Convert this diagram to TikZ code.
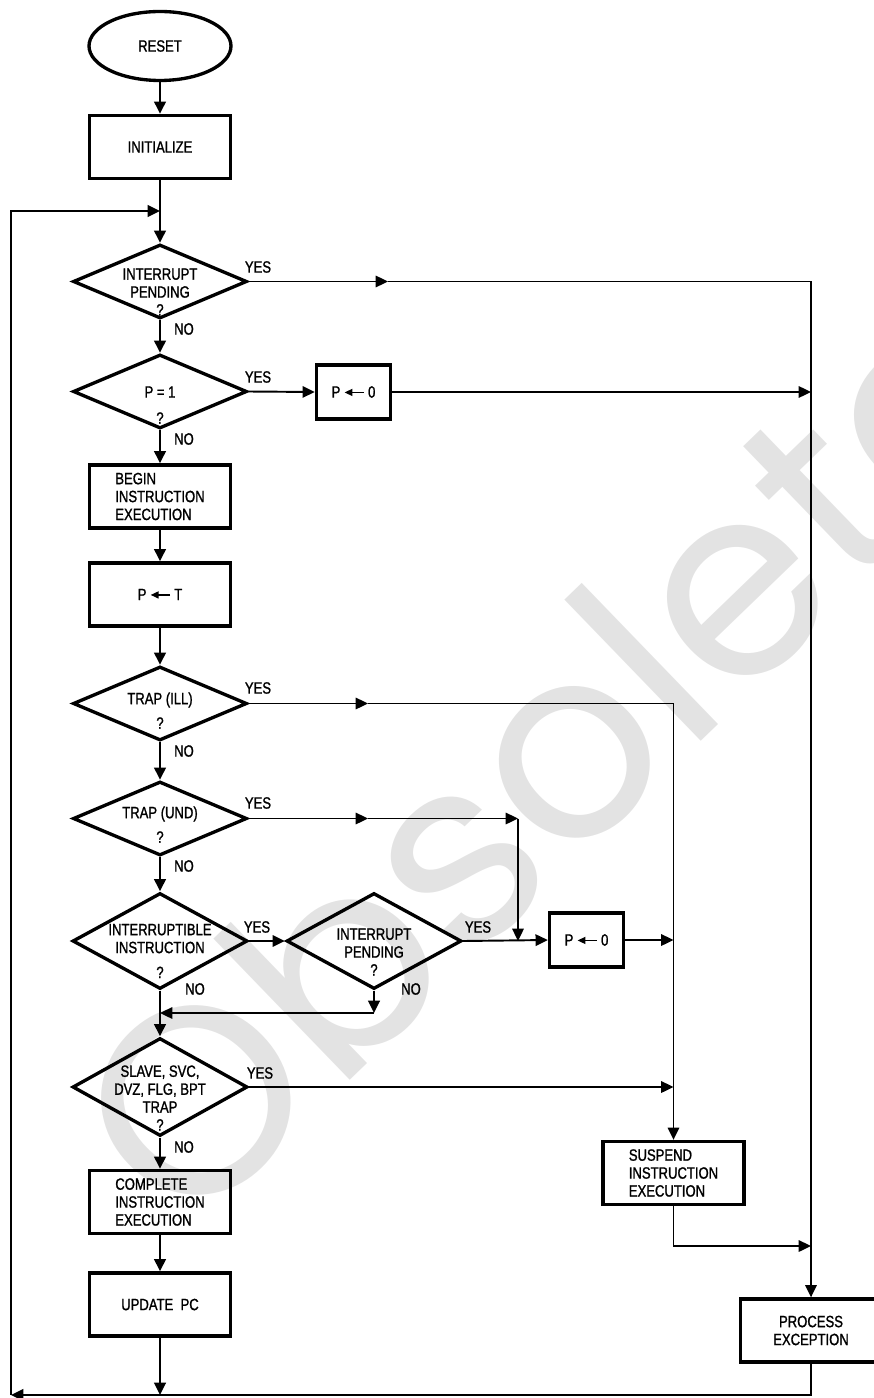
\documentclass[tikz,border=0pt]{standalone}
\usepackage{fontspec}
\setmainfont[FakeStretch=0.8, FakeBold=1.2]{Liberation Sans}
\newfontfamily\wmfont{Poppins}
\usetikzlibrary{shapes.geometric, arrows.meta}

\newcommand{\getsarrow}{\kern2pt\tikz[baseline=-0.6ex]\draw[line width=0.8pt, -{Triangle[length=4.5pt,width=4pt]}] (11pt,0) -- (0pt,0);\kern2pt}

\tikzset{
  txt/.style={font=\fontsize{9.3}{10.2}\selectfont, inner sep=0pt, align=center},
  box/.style={draw, line width=1.9pt, minimum width=2.82cm, minimum height=1.26cm, inner sep=0pt, txt},
  smallbox/.style={draw, line width=1.9pt, minimum width=1.48cm, minimum height=1.08cm, inner sep=0pt, txt},
  decision/.style={diamond, draw, line width=1.9pt, minimum width=3.48cm, minimum height=1.48cm, inner sep=0pt},
  tall/.style={minimum width=3.5cm, minimum height=1.92cm},
  flow/.style={line width=1.6pt, -{Triangle[length=7pt,width=6.5pt]}},
  route/.style={line width=1.1pt},
  tip/.style={-{Triangle[length=7pt,width=6.5pt]}},
}

\begin{document}
\begin{tikzpicture}[x=0.02cm, y=-0.02cm]
  \useasboundingbox (0,0) rectangle (874,1398);

  % Watermark
  \node[text=black!11, font=\wmfont\fontsize{151}{151}\selectfont, rotate=44, inner sep=0pt] (wm) at (545,757) {Obsolete};

  % Main column
  \node[ellipse, draw, line width=1.9pt, minimum width=2.84cm, minimum height=1.38cm, inner sep=0pt, txt] (reset) at (160,46) {RESET};
  \node[box] (init) at (160,147) {INITIALIZE};
  \node[decision] (d1) at (160,281.5) {};
  \node[txt] (d1t) at (160,292) {INTERRUPT\\PENDING\\?};
  \node[decision] (d2) at (160,391.5) {};
  \node[txt] (d2t) at (160,392) {P = 1};
  \node[txt] (d2q) at (160,418) {?};
  \node[box, align=left] (begin) at (160,496.5) {BEGIN\\INSTRUCTION\\EXECUTION};
  \node[box] (pt) at (160,594.5) {P\getsarrow T};
  \node[decision] (d3) at (160,703.5) {};
  \node[txt] (d3t) at (160,700) {TRAP (ILL)};
  \node[txt] (d3q) at (160,723) {?};
  \node[decision] (d4) at (160,818.5) {};
  \node[txt] (d4t) at (160,814) {TRAP (UND)};
  \node[txt] (d4q) at (160,837) {?};
  \node[decision, tall] (d5) at (160,941) {};
  \node[txt] (d5t) at (160,951) {INTERRUPTIBLE\\INSTRUCTION\\[4pt]?};
  \node[decision, tall] (d6) at (374,941) {};
  \node[txt] (d6t) at (374,952) {INTERRUPT\\PENDING\\?};
  \node[decision, tall, minimum height=1.96cm] (d7) at (160,1087) {};
  \node[txt] (d7t) at (160,1098) {SLAVE, SVC,\\DVZ, FLG, BPT\\TRAP\\?};
  \node[box, align=left] (comp) at (160,1202) {COMPLETE\\INSTRUCTION\\EXECUTION};
  \node[box] (upd) at (160,1304.5) {UPDATE\ \ PC};

  % Side boxes
  \node[smallbox] (pz1) at (353.5,392) {P\getsarrow 0};
  \node[smallbox] (pz2) at (586.5,940) {P\getsarrow 0};
  \node[box, align=left] (susp) at (673.5,1173) {SUSPEND\\INSTRUCTION\\EXECUTION};
  \node[box] (proc) at (811,1330.5) {PROCESS\\EXCEPTION};

  % YES / NO labels
  \node[txt] (y1) at (258,267) {YES};
  \node[txt] (n1) at (184,329) {NO};
  \node[txt] (y2) at (258,377) {YES};
  \node[txt] (n2) at (184,439) {NO};
  \node[txt] (y3) at (258,688) {YES};
  \node[txt] (n3) at (184,751) {NO};
  \node[txt] (y4) at (258,803) {YES};
  \node[txt] (n4) at (184,866) {NO};
  \node[txt] (y5) at (257,927) {YES};
  \node[txt] (n5) at (195,989) {NO};
  \node[txt] (y6) at (478,927) {YES};
  \node[txt] (n6) at (411,989) {NO};
  \node[txt] (y7) at (260,1073) {YES};
  \node[txt] (n7) at (184,1147) {NO};

  % Routing points
  \coordinate (loopin) at (160,211);
  \coordinate (botleft) at (11,1395);
  \coordinate (botmid) at (160,1395);
  \coordinate (m1) at (388,281.5);
  \coordinate (m3) at (368,703.5);
  \coordinate (m4) at (368,818.5);
  \coordinate (und) at (518,818.5);
  \coordinate (ret) at (374,1013);
  \coordinate (sout) at (673.5,1246);

  % Main flow
  \draw[flow] (reset.south) -- (init.north);
  \draw[flow] (init.south) -- (d1.north);
  \draw[flow] (d1.south) -- (d2.north);
  \draw[flow] (d2.south) -- (begin.north);
  \draw[flow] (begin.south) -- (pt.north);
  \draw[flow] (pt.south) -- (d3.north);
  \draw[flow] (d3.south) -- (d4.north);
  \draw[flow] (d4.south) -- (d5.north);
  \draw[flow] (d5.south) -- (d7.north);
  \draw[flow] (d7.south) -- (comp.north);
  \draw[flow] (comp.south) -- (upd.north);
  \draw[flow] (upd.south) -- (botmid);

  % Exception paths
  \draw[route, tip] (d1.east) -- (m1);
  \draw[route, tip] (m1) -| (proc.north);
  \draw[route, tip] (d2.east) -- (pz1.west);
  \draw[route, tip] (pz1.east) -- (pz1.east -| proc.north);
  \draw[route, tip] (d3.east) -- (m3);
  \draw[route, tip] (m3) -| (susp.north);
  \draw[route, tip] (d4.east) -- (m4);
  \draw[route, tip] (m4) -- (und);
  \draw[route, tip] (und) -- (und |- d6.east);
  \draw[route, tip] (d5.east) -- (d6.west);
  \draw[route, tip] (d6.east) -- (pz2.west);
  \draw[route, tip] (pz2.east) -- (pz2.east -| susp.north);
  \draw[flow] (d6.south) -- (ret);
  \draw[route, tip] (ret) -- (ret -| d5.south);
  \draw[route, tip] (d7.east) -- (d7.east -| susp.north);
  \draw[route, tip] (susp.south) |- (sout -| proc.north);

  % Back to the top
  \draw[route, line width=1.4pt, tip] (proc.south) |- (botleft);
  \draw[route, line width=1.4pt, tip] (botleft) |- (loopin);
\end{tikzpicture}
\end{document}
